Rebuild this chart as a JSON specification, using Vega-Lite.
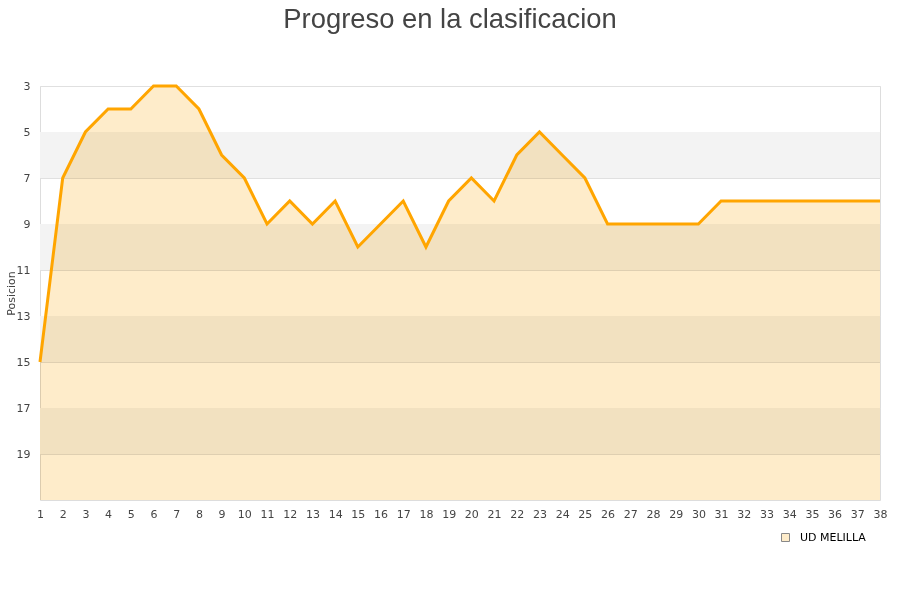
{
  "$schema": "https://vega.github.io/schema/vega-lite/v6.json",
  "width": 840,
  "height": 414,
  "autosize": {"type": "none"},
  "padding": {"left": 40, "top": 86, "right": 20, "bottom": 100},
  "background": "white",
  "title": {"text": "Progreso en la clasificacion", "fontSize": 27.4, "font": "Liberation Sans", "fontWeight": "normal", "color": "#444444", "anchor": "middle", "offset": 47, "dx": -10},
  "config": {
    "view": {"stroke": "#dddddd", "strokeWidth": 1},
    "axis": {"labelFont": "DejaVu Sans", "labelFontSize": 11, "labelColor": "#444444", "titleFont": "DejaVu Sans", "titleFontSize": 11, "titleFontWeight": "normal", "titleColor": "#444444", "domain": false, "ticks": false, "gridColor": "#e0e0e0"},
    "axisX": {"labelOverlap": false, "labelBound": false, "labelFlush": false}
  },
  "datasets": {
    "progreso": [
      {"jornada": 1, "posicion": 15, "equipo": "UD MELILLA"},
      {"jornada": 2, "posicion": 7, "equipo": "UD MELILLA"},
      {"jornada": 3, "posicion": 5, "equipo": "UD MELILLA"},
      {"jornada": 4, "posicion": 4, "equipo": "UD MELILLA"},
      {"jornada": 5, "posicion": 4, "equipo": "UD MELILLA"},
      {"jornada": 6, "posicion": 3, "equipo": "UD MELILLA"},
      {"jornada": 7, "posicion": 3, "equipo": "UD MELILLA"},
      {"jornada": 8, "posicion": 4, "equipo": "UD MELILLA"},
      {"jornada": 9, "posicion": 6, "equipo": "UD MELILLA"},
      {"jornada": 10, "posicion": 7, "equipo": "UD MELILLA"},
      {"jornada": 11, "posicion": 9, "equipo": "UD MELILLA"},
      {"jornada": 12, "posicion": 8, "equipo": "UD MELILLA"},
      {"jornada": 13, "posicion": 9, "equipo": "UD MELILLA"},
      {"jornada": 14, "posicion": 8, "equipo": "UD MELILLA"},
      {"jornada": 15, "posicion": 10, "equipo": "UD MELILLA"},
      {"jornada": 16, "posicion": 9, "equipo": "UD MELILLA"},
      {"jornada": 17, "posicion": 8, "equipo": "UD MELILLA"},
      {"jornada": 18, "posicion": 10, "equipo": "UD MELILLA"},
      {"jornada": 19, "posicion": 8, "equipo": "UD MELILLA"},
      {"jornada": 20, "posicion": 7, "equipo": "UD MELILLA"},
      {"jornada": 21, "posicion": 8, "equipo": "UD MELILLA"},
      {"jornada": 22, "posicion": 6, "equipo": "UD MELILLA"},
      {"jornada": 23, "posicion": 5, "equipo": "UD MELILLA"},
      {"jornada": 24, "posicion": 6, "equipo": "UD MELILLA"},
      {"jornada": 25, "posicion": 7, "equipo": "UD MELILLA"},
      {"jornada": 26, "posicion": 9, "equipo": "UD MELILLA"},
      {"jornada": 27, "posicion": 9, "equipo": "UD MELILLA"},
      {"jornada": 28, "posicion": 9, "equipo": "UD MELILLA"},
      {"jornada": 29, "posicion": 9, "equipo": "UD MELILLA"},
      {"jornada": 30, "posicion": 9, "equipo": "UD MELILLA"},
      {"jornada": 31, "posicion": 8, "equipo": "UD MELILLA"},
      {"jornada": 32, "posicion": 8, "equipo": "UD MELILLA"},
      {"jornada": 33, "posicion": 8, "equipo": "UD MELILLA"},
      {"jornada": 34, "posicion": 8, "equipo": "UD MELILLA"},
      {"jornada": 35, "posicion": 8, "equipo": "UD MELILLA"},
      {"jornada": 36, "posicion": 8, "equipo": "UD MELILLA"},
      {"jornada": 37, "posicion": 8, "equipo": "UD MELILLA"},
      {"jornada": 38, "posicion": 8, "equipo": "UD MELILLA"}
    ],
    "bandas": [
      {"desde": 5, "hasta": 7},
      {"desde": 9, "hasta": 11},
      {"desde": 13, "hasta": 15},
      {"desde": 17, "hasta": 19}
    ]
  },
  "layer": [
    {
      "data": {"name": "bandas"},
      "mark": {"type": "rect", "color": "#f3f3f3"},
      "encoding": {
        "y": {"field": "desde", "type": "quantitative", "scale": {"domain": [3, 21], "reverse": true, "nice": false, "zero": false}, "axis": {"values": [3, 5, 7, 9, 11, 13, 15, 17, 19], "title": "Posicion", "titlePadding": 0, "labelPadding": 10, "grid": true}},
        "y2": {"field": "hasta"}
      }
    },
    {
      "data": {"name": "progreso"},
      "mark": {"type": "area", "blend": "multiply", "fillOpacity": 1},
      "encoding": {
        "x": {"field": "jornada", "type": "quantitative", "scale": {"domain": [1, 38], "nice": false, "zero": false}, "axis": {"values": [1,2,3,4,5,6,7,8,9,10,11,12,13,14,15,16,17,18,19,20,21,22,23,24,25,26,27,28,29,30,31,32,33,34,35,36,37,38], "title": null, "grid": false, "labelPadding": 8, "labelFlush": false, "labelOverlap": false, "labelBound": false}},
        "y": {"field": "posicion", "type": "quantitative"},
        "y2": {"datum": 21},
        "fill": {"field": "equipo", "type": "nominal", "scale": {"range": ["#feecca"]}, "legend": {"title": null, "orient": "none", "legendX": 740, "legendY": 446, "symbolType": "square", "symbolSize": 64, "symbolStrokeColor": "#888888", "symbolStrokeWidth": 1, "labelOffset": 9, "labelFont": "DejaVu Sans", "labelFontSize": 11, "labelColor": "#000000"}}
      }
    },
    {
      "data": {"name": "progreso"},
      "mark": {"type": "line", "color": "#ffa500", "strokeWidth": 3},
      "encoding": {
        "x": {"field": "jornada", "type": "quantitative", "axis": {"values": [1,2,3,4,5,6,7,8,9,10,11,12,13,14,15,16,17,18,19,20,21,22,23,24,25,26,27,28,29,30,31,32,33,34,35,36,37,38], "title": null, "grid": false, "labelPadding": 8, "labelFlush": false, "labelOverlap": false, "labelBound": false}},
        "y": {"field": "posicion", "type": "quantitative"}
      }
    }
  ]
}
